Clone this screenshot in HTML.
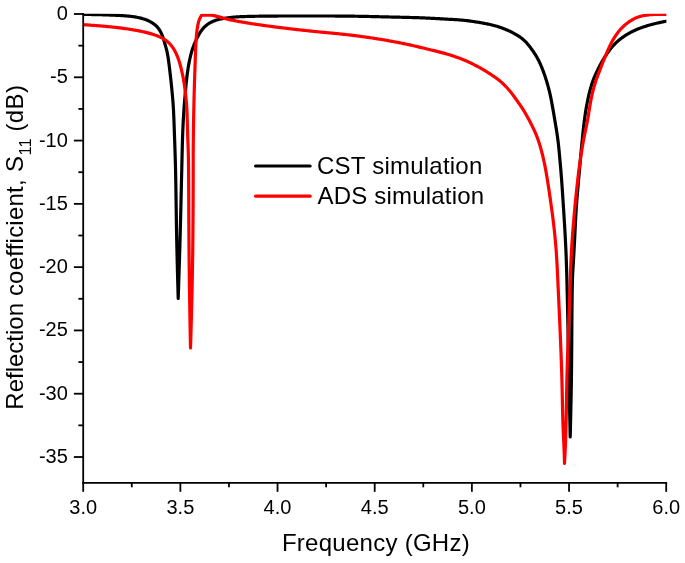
<!DOCTYPE html>
<html><head><meta charset="utf-8"><title>S11</title>
<style>
html,body{margin:0;padding:0;background:#fff;}
svg{display:block;font-family:"Liberation Sans",sans-serif;will-change:transform;transform:translateZ(0);}
</style></head>
<body>
<svg width="685" height="563" viewBox="0 0 685 563">
<rect width="685" height="563" fill="#fff"/>
<clipPath id="pc"><rect x="83.2" y="13.7" width="583.20" height="470"/></clipPath>
<g fill="none" stroke-width="3.2" stroke-linejoin="round" stroke-linecap="round" clip-path="url(#pc)">
<path stroke="#000" d="M83.00 14.40L84.00 14.41L85.00 14.43L86.00 14.44L87.00 14.45L88.00 14.47L89.00 14.48L90.00 14.50L91.00 14.52L92.00 14.53L93.00 14.55L94.00 14.57L95.00 14.59L96.00 14.61L97.00 14.64L98.00 14.66L99.00 14.68L100.00 14.71L101.00 14.73L102.00 14.76L103.00 14.79L104.00 14.82L105.00 14.85L105.99 14.88L106.99 14.92L107.99 14.95L108.99 14.99L109.99 15.03L110.99 15.07L111.99 15.11L112.99 15.15L113.99 15.19L114.99 15.24L115.99 15.28L116.99 15.33L117.99 15.38L118.99 15.43L119.99 15.49L120.99 15.55L121.98 15.61L122.98 15.67L123.98 15.74L124.98 15.81L125.97 15.88L126.97 15.97L127.97 16.05L128.96 16.15L129.95 16.25L130.95 16.37L131.94 16.49L132.93 16.63L133.92 16.77L134.91 16.93L135.89 17.10L136.87 17.28L137.85 17.48L138.83 17.69L139.81 17.91L140.78 18.15L141.74 18.41L142.71 18.68L143.66 18.97L144.61 19.28L145.56 19.60L146.49 19.95L147.42 20.33L148.33 20.72L149.23 21.14L150.12 21.59L150.99 22.07L151.85 22.57L152.69 23.10L153.50 23.66L154.29 24.26L155.06 24.88L155.80 25.54L156.51 26.22L157.19 26.94L157.84 27.68L158.45 28.45L159.03 29.25L159.57 30.07L160.09 30.92L160.57 31.78L161.02 32.67L161.44 33.56L161.84 34.48L162.21 35.40L162.56 36.33L162.90 37.28L163.22 38.22L163.53 39.18L163.83 40.13L164.12 41.09L164.40 42.05L164.68 43.01L164.96 43.97L165.24 44.94L165.51 45.90L165.78 46.86L166.05 47.82L166.30 48.79L166.55 49.75L166.78 50.72L167.01 51.69L167.22 52.67L167.41 53.65L167.59 54.63L167.77 55.61L167.93 56.60L168.09 57.59L168.24 58.58L168.38 59.57L168.52 60.56L168.66 61.55L168.80 62.54L168.93 63.53L169.06 64.52L169.19 65.52L169.31 66.51L169.43 67.50L169.56 68.49L169.68 69.49L169.79 70.48L169.91 71.47L170.03 72.47L170.14 73.46L170.25 74.45L170.37 75.45L170.48 76.44L170.59 77.44L170.70 78.43L170.81 79.42L170.92 80.42L171.02 81.41L171.13 82.41L171.24 83.40L171.34 84.39L171.44 85.39L171.55 86.38L171.65 87.38L171.75 88.37L171.84 89.37L171.94 90.37L172.03 91.36L172.13 92.36L172.22 93.35L172.31 94.35L172.40 95.34L172.49 96.34L172.58 97.34L172.66 98.33L172.75 99.33L172.83 100.33L172.91 101.32L172.98 102.32L173.06 103.32L173.13 104.31L173.20 105.31L173.26 106.31L173.32 107.31L173.38 108.31L173.44 109.30L173.50 110.30L173.55 111.30L173.60 112.30L173.64 113.30L173.69 114.30L173.73 115.30L173.78 116.30L173.82 117.29L173.86 118.29L173.90 119.29L173.94 120.29L173.97 121.29L174.01 122.29L174.05 123.29L174.08 124.29L174.12 125.29L174.15 126.29L174.19 127.29L174.22 128.29L174.26 129.29L174.29 130.29L174.33 131.29L174.36 132.28L174.40 133.28L174.43 134.28L174.47 135.28L174.50 136.28L174.54 137.28L174.58 138.28L174.61 139.28L174.65 140.28L174.68 141.28L174.72 142.28L174.75 143.28L174.79 144.28L174.82 145.28L174.86 146.28L174.89 147.28L174.93 148.27L174.96 149.27L174.99 150.27L175.03 151.27L175.06 152.27L175.09 153.27L175.12 154.27L175.15 155.27L175.18 156.27L175.21 157.27L175.24 158.27L175.27 159.27L175.30 160.27L175.33 161.27L175.36 162.27L175.38 163.27L175.41 164.27L175.44 165.27L175.46 166.27L175.49 167.27L175.51 168.27L175.53 169.27L175.56 170.27L175.58 171.27L175.60 172.27L175.62 173.27L175.64 174.26L175.66 175.26L175.68 176.26L175.70 177.26L175.72 178.26L175.74 179.26L175.76 180.26L175.78 181.26L175.79 182.26L175.81 183.26L175.83 184.26L175.84 185.26L175.86 186.26L175.88 187.26L175.89 188.26L175.91 189.26L175.92 190.26L175.94 191.26L175.95 192.26L175.97 193.26L175.98 194.26L176.00 195.26L176.01 196.26L176.03 197.26L176.04 198.26L176.06 199.26L176.07 200.26L176.09 201.26L176.10 202.26L176.11 203.26L176.13 204.26L176.14 205.26L176.16 206.26L176.17 207.26L176.19 208.26L176.20 209.26L176.21 210.26L176.23 211.26L176.24 212.26L176.26 213.26L176.27 214.26L176.29 215.26L176.30 216.26L176.32 217.26L176.33 218.26L176.35 219.26L176.36 220.26L176.38 221.26L176.39 222.26L176.41 223.26L176.43 224.26L176.44 225.26L176.46 226.26L176.48 227.26L176.50 228.26L176.51 229.26L176.53 230.26L176.55 231.26L176.57 232.26L176.59 233.26L176.61 234.26L176.63 235.26L176.65 236.26L176.67 237.26L176.69 238.26L176.71 239.26L176.73 240.26L176.75 241.26L176.77 242.26L176.79 243.26L176.81 244.25L176.83 245.25L176.85 246.25L176.88 247.25L176.90 248.25L176.92 249.25L176.94 250.25L176.97 251.25L176.99 252.25L177.01 253.25L177.03 254.25L177.06 255.25L177.08 256.25L177.10 257.25L177.13 258.25L177.15 259.25L177.18 260.25L177.20 261.25L177.22 262.25L177.25 263.25L177.27 264.25L177.30 265.25L177.32 266.25L177.35 267.25L177.37 268.25L177.40 269.25L177.42 270.25L177.45 271.25L177.48 272.25L177.50 273.25L177.53 274.25L177.55 275.25L177.58 276.25L177.61 277.25L177.63 278.24L177.66 279.24L177.69 280.24L177.71 281.24L177.74 282.24L177.77 283.24L177.80 284.24L177.82 285.24L177.85 286.24L177.88 287.24L177.91 288.24L177.94 289.24L177.96 290.23L177.99 291.23L178.02 292.21L178.05 293.20L178.08 294.18L178.10 295.15L178.13 296.11L178.16 297.07L178.19 298.02L178.20 298.50L178.23 297.50L178.27 296.50L178.30 295.50L178.34 294.50L178.37 293.50L178.40 292.50L178.44 291.50L178.47 290.50L178.51 289.51L178.54 288.51L178.57 287.51L178.61 286.51L178.64 285.51L178.67 284.51L178.71 283.51L178.74 282.51L178.77 281.51L178.80 280.51L178.84 279.51L178.87 278.51L178.90 277.51L178.93 276.51L178.97 275.51L179.00 274.51L179.03 273.51L179.06 272.51L179.09 271.51L179.12 270.51L179.16 269.52L179.19 268.52L179.22 267.52L179.25 266.52L179.28 265.52L179.31 264.52L179.34 263.52L179.37 262.52L179.40 261.52L179.43 260.52L179.46 259.52L179.50 258.52L179.53 257.52L179.56 256.52L179.59 255.52L179.61 254.52L179.64 253.52L179.67 252.52L179.70 251.52L179.73 250.52L179.76 249.52L179.79 248.53L179.82 247.53L179.85 246.53L179.88 245.53L179.91 244.53L179.93 243.53L179.96 242.53L179.99 241.53L180.02 240.53L180.05 239.53L180.07 238.53L180.10 237.53L180.13 236.53L180.16 235.53L180.18 234.53L180.21 233.53L180.24 232.53L180.26 231.53L180.29 230.53L180.32 229.53L180.34 228.53L180.37 227.53L180.40 226.53L180.42 225.53L180.45 224.53L180.47 223.53L180.50 222.53L180.52 221.54L180.55 220.54L180.57 219.54L180.60 218.54L180.62 217.54L180.65 216.54L180.67 215.54L180.69 214.54L180.72 213.54L180.74 212.54L180.77 211.54L180.79 210.54L180.81 209.54L180.84 208.54L180.86 207.54L180.88 206.54L180.91 205.54L180.93 204.54L180.95 203.54L180.98 202.54L181.00 201.54L181.02 200.54L181.05 199.54L181.07 198.54L181.09 197.54L181.12 196.54L181.14 195.54L181.16 194.54L181.19 193.54L181.21 192.54L181.23 191.54L181.26 190.54L181.28 189.54L181.30 188.54L181.33 187.54L181.35 186.54L181.37 185.55L181.40 184.55L181.42 183.55L181.44 182.55L181.47 181.55L181.49 180.55L181.52 179.55L181.54 178.55L181.56 177.55L181.59 176.55L181.61 175.55L181.64 174.55L181.66 173.55L181.69 172.55L181.71 171.55L181.73 170.55L181.76 169.55L181.78 168.55L181.81 167.55L181.83 166.55L181.85 165.55L181.88 164.55L181.90 163.55L181.92 162.55L181.95 161.55L181.97 160.55L181.99 159.55L182.02 158.55L182.04 157.55L182.06 156.55L182.08 155.55L182.11 154.55L182.13 153.55L182.16 152.55L182.18 151.55L182.20 150.55L182.23 149.55L182.25 148.55L182.28 147.55L182.31 146.55L182.33 145.56L182.36 144.56L182.39 143.56L182.42 142.56L182.44 141.56L182.47 140.56L182.50 139.56L182.54 138.56L182.57 137.56L182.60 136.56L182.63 135.56L182.67 134.56L182.70 133.56L182.74 132.56L182.78 131.56L182.82 130.56L182.86 129.57L182.90 128.57L182.94 127.57L182.99 126.57L183.04 125.57L183.08 124.57L183.13 123.57L183.18 122.57L183.23 121.57L183.29 120.57L183.34 119.58L183.39 118.58L183.45 117.58L183.51 116.58L183.57 115.58L183.62 114.58L183.69 113.59L183.75 112.59L183.81 111.59L183.88 110.59L183.94 109.59L184.01 108.60L184.08 107.60L184.15 106.60L184.23 105.61L184.30 104.61L184.38 103.61L184.46 102.62L184.55 101.62L184.63 100.62L184.71 99.63L184.80 98.63L184.89 97.63L184.98 96.64L185.06 95.64L185.15 94.64L185.24 93.65L185.33 92.65L185.42 91.66L185.51 90.66L185.60 89.66L185.69 88.67L185.79 87.67L185.88 86.68L185.97 85.68L186.07 84.69L186.16 83.69L186.26 82.69L186.36 81.70L186.47 80.71L186.58 79.71L186.69 78.72L186.80 77.72L186.92 76.73L187.04 75.74L187.17 74.75L187.30 73.76L187.44 72.77L187.58 71.78L187.72 70.79L187.87 69.80L188.02 68.81L188.18 67.82L188.34 66.83L188.50 65.85L188.67 64.86L188.85 63.88L189.03 62.89L189.22 61.91L189.42 60.93L189.62 59.95L189.82 58.97L190.04 57.99L190.26 57.02L190.49 56.05L190.73 55.07L190.97 54.11L191.23 53.14L191.50 52.18L191.78 51.22L192.07 50.27L192.38 49.32L192.69 48.37L193.03 47.43L193.37 46.49L193.73 45.56L194.10 44.63L194.48 43.71L194.87 42.78L195.27 41.87L195.68 40.95L196.11 40.04L196.54 39.14L196.98 38.24L197.43 37.34L197.89 36.45L198.36 35.57L198.84 34.69L199.33 33.82L199.84 32.96L200.37 32.11L200.92 31.28L201.49 30.47L202.08 29.67L202.70 28.90L203.35 28.16L204.02 27.43L204.73 26.74L205.46 26.07L206.21 25.43L206.99 24.81L207.79 24.23L208.62 23.67L209.46 23.15L210.32 22.66L211.20 22.19L212.09 21.76L213.00 21.35L213.92 20.98L214.85 20.63L215.79 20.31L216.74 20.01L217.70 19.74L218.67 19.49L219.64 19.26L220.61 19.05L221.59 18.85L222.57 18.67L223.56 18.49L224.55 18.32L225.54 18.17L226.53 18.02L227.52 17.88L228.51 17.74L229.50 17.62L230.49 17.50L231.49 17.39L232.48 17.29L233.48 17.19L234.47 17.11L235.47 17.03L236.47 16.95L237.46 16.89L238.46 16.82L239.46 16.77L240.46 16.71L241.46 16.67L242.46 16.62L243.46 16.58L244.45 16.54L245.45 16.51L246.45 16.48L247.45 16.45L248.45 16.42L249.45 16.39L250.45 16.37L251.45 16.35L252.45 16.33L253.45 16.31L254.45 16.29L255.45 16.27L256.45 16.26L257.45 16.24L258.45 16.23L259.45 16.21L260.45 16.20L261.45 16.18L262.45 16.17L263.45 16.16L264.45 16.15L265.45 16.14L266.45 16.13L267.45 16.11L268.45 16.10L269.45 16.09L270.45 16.08L271.45 16.07L272.45 16.07L273.45 16.06L274.45 16.05L275.45 16.04L276.45 16.03L277.45 16.03L278.45 16.02L279.45 16.02L280.45 16.01L281.45 16.01L282.45 16.01L283.45 16.01L284.45 16.00L285.45 16.00L286.45 16.00L287.45 16.00L288.45 16.00L289.45 16.00L290.45 16.00L291.45 16.00L292.45 16.00L293.45 16.00L294.45 16.00L295.45 16.00L296.45 16.00L297.45 16.00L298.45 16.00L299.45 16.00L300.45 16.00L301.45 16.00L302.45 16.00L303.45 16.00L304.45 16.00L305.45 16.00L306.45 16.00L307.45 16.00L308.45 16.00L309.45 16.00L310.45 16.00L311.45 16.00L312.45 16.00L313.45 16.00L314.45 16.00L315.45 16.00L316.45 16.00L317.45 16.00L318.45 16.00L319.45 16.00L320.45 16.00L321.45 16.00L322.45 16.00L323.45 16.00L324.45 16.00L325.45 16.00L326.45 16.00L327.45 16.00L328.45 16.00L329.45 16.00L330.45 16.01L331.45 16.01L332.45 16.01L333.45 16.02L334.45 16.02L335.45 16.03L336.45 16.03L337.45 16.04L338.45 16.04L339.45 16.05L340.45 16.06L341.45 16.07L342.45 16.08L343.45 16.09L344.45 16.10L345.45 16.11L346.45 16.12L347.45 16.13L348.45 16.15L349.45 16.16L350.45 16.17L351.45 16.18L352.45 16.20L353.45 16.21L354.45 16.22L355.45 16.24L356.45 16.25L357.45 16.27L358.45 16.28L359.45 16.30L360.45 16.31L361.45 16.33L362.45 16.35L363.45 16.36L364.45 16.38L365.45 16.40L366.45 16.42L367.45 16.44L368.45 16.47L369.45 16.49L370.45 16.51L371.45 16.54L372.45 16.56L373.45 16.59L374.45 16.61L375.45 16.64L376.44 16.66L377.44 16.69L378.44 16.72L379.44 16.74L380.44 16.77L381.44 16.79L382.44 16.82L383.44 16.85L384.44 16.87L385.44 16.90L386.44 16.92L387.44 16.94L388.44 16.97L389.44 16.99L390.44 17.01L391.44 17.04L392.44 17.06L393.44 17.08L394.44 17.11L395.44 17.13L396.44 17.15L397.44 17.17L398.44 17.20L399.44 17.22L400.44 17.24L401.44 17.26L402.44 17.29L403.44 17.31L404.44 17.33L405.44 17.36L406.44 17.38L407.44 17.41L408.44 17.43L409.44 17.46L410.44 17.49L411.44 17.51L412.44 17.54L413.44 17.57L414.43 17.60L415.43 17.63L416.43 17.66L417.43 17.69L418.43 17.72L419.43 17.76L420.43 17.79L421.43 17.83L422.43 17.87L423.43 17.91L424.43 17.95L425.43 17.99L426.42 18.04L427.42 18.08L428.42 18.13L429.42 18.18L430.42 18.23L431.42 18.28L432.42 18.33L433.42 18.39L434.41 18.44L435.41 18.50L436.41 18.55L437.41 18.61L438.41 18.67L439.41 18.72L440.41 18.78L441.40 18.84L442.40 18.90L443.40 18.95L444.40 19.01L445.40 19.07L446.40 19.12L447.40 19.18L448.39 19.23L449.39 19.28L450.39 19.34L451.39 19.39L452.39 19.45L453.39 19.50L454.39 19.56L455.38 19.62L456.38 19.69L457.38 19.75L458.38 19.82L459.37 19.90L460.37 19.98L461.36 20.07L462.36 20.16L463.35 20.26L464.35 20.36L465.34 20.47L466.34 20.58L467.33 20.70L468.32 20.83L469.31 20.96L470.31 21.09L471.30 21.23L472.29 21.38L473.28 21.52L474.27 21.67L475.26 21.82L476.24 21.97L477.23 22.13L478.22 22.29L479.21 22.45L480.20 22.62L481.18 22.79L482.17 22.96L483.16 23.14L484.14 23.32L485.13 23.50L486.11 23.70L487.10 23.89L488.08 24.10L489.05 24.31L490.03 24.52L491.00 24.74L491.97 24.97L492.94 25.21L493.91 25.46L494.87 25.72L495.83 25.99L496.79 26.26L497.74 26.55L498.69 26.85L499.64 27.16L500.59 27.49L501.53 27.82L502.48 28.17L503.41 28.53L504.35 28.89L505.28 29.27L506.21 29.66L507.13 30.05L508.05 30.46L508.96 30.87L509.87 31.30L510.77 31.73L511.67 32.17L512.56 32.62L513.44 33.08L514.33 33.55L515.20 34.04L516.07 34.54L516.94 35.05L517.79 35.57L518.63 36.11L519.47 36.67L520.29 37.24L521.09 37.83L521.88 38.43L522.65 39.05L523.40 39.70L524.14 40.36L524.86 41.04L525.56 41.74L526.24 42.46L526.91 43.19L527.56 43.94L528.20 44.71L528.83 45.49L529.45 46.28L530.06 47.08L530.67 47.88L531.26 48.69L531.85 49.50L532.43 50.32L533.01 51.14L533.57 51.97L534.13 52.80L534.68 53.64L535.22 54.48L535.75 55.33L536.27 56.18L536.77 57.05L537.27 57.91L537.75 58.79L538.21 59.67L538.67 60.55L539.11 61.45L539.54 62.35L539.97 63.25L540.38 64.16L540.78 65.08L541.17 66.00L541.56 66.92L541.94 67.85L542.31 68.78L542.67 69.71L543.02 70.65L543.37 71.59L543.72 72.52L544.06 73.47L544.39 74.41L544.71 75.36L545.03 76.30L545.35 77.25L545.66 78.20L545.96 79.16L546.26 80.11L546.55 81.07L546.84 82.03L547.12 82.99L547.40 83.95L547.68 84.91L547.95 85.87L548.21 86.83L548.47 87.80L548.73 88.77L548.98 89.74L549.22 90.70L549.46 91.68L549.70 92.65L549.92 93.62L550.15 94.60L550.36 95.57L550.57 96.55L550.78 97.53L550.98 98.51L551.17 99.49L551.36 100.47L551.55 101.45L551.73 102.43L551.91 103.42L552.09 104.40L552.27 105.39L552.45 106.37L552.62 107.36L552.80 108.34L552.97 109.33L553.15 110.31L553.32 111.30L553.49 112.28L553.66 113.27L553.83 114.25L554.00 115.24L554.16 116.22L554.33 117.21L554.50 118.20L554.66 119.18L554.83 120.17L554.99 121.16L555.15 122.14L555.32 123.13L555.48 124.12L555.64 125.10L555.81 126.09L555.97 127.08L556.13 128.06L556.29 129.05L556.45 130.04L556.61 131.03L556.76 132.02L556.91 133.00L557.06 133.99L557.21 134.98L557.36 135.97L557.50 136.96L557.63 137.95L557.77 138.94L557.90 139.93L558.02 140.92L558.14 141.92L558.26 142.91L558.38 143.90L558.49 144.89L558.60 145.89L558.70 146.88L558.80 147.88L558.90 148.87L559.00 149.87L559.10 150.86L559.19 151.86L559.29 152.85L559.38 153.85L559.47 154.85L559.56 155.84L559.65 156.84L559.74 157.83L559.83 158.83L559.92 159.83L560.01 160.82L560.10 161.82L560.19 162.81L560.28 163.81L560.37 164.81L560.46 165.80L560.54 166.80L560.63 167.80L560.72 168.79L560.80 169.79L560.89 170.78L560.97 171.78L561.05 172.78L561.13 173.77L561.22 174.77L561.29 175.77L561.37 176.76L561.45 177.76L561.52 178.76L561.60 179.76L561.67 180.75L561.75 181.75L561.82 182.75L561.89 183.75L561.96 184.74L562.03 185.74L562.10 186.74L562.16 187.74L562.23 188.73L562.30 189.73L562.37 190.73L562.43 191.73L562.50 192.72L562.56 193.72L562.63 194.72L562.70 195.72L562.76 196.72L562.83 197.71L562.89 198.71L562.96 199.71L563.02 200.71L563.09 201.71L563.15 202.70L563.22 203.70L563.28 204.70L563.35 205.70L563.42 206.69L563.48 207.69L563.55 208.69L563.61 209.69L563.68 210.69L563.74 211.68L563.81 212.68L563.87 213.68L563.93 214.68L564.00 215.68L564.06 216.67L564.12 217.67L564.18 218.67L564.25 219.67L564.31 220.67L564.37 221.66L564.43 222.66L564.49 223.66L564.55 224.66L564.61 225.66L564.67 226.66L564.72 227.65L564.78 228.65L564.84 229.65L564.90 230.65L564.95 231.65L565.01 232.65L565.07 233.64L565.12 234.64L565.18 235.64L565.23 236.64L565.29 237.64L565.34 238.64L565.39 239.64L565.44 240.63L565.49 241.63L565.54 242.63L565.59 243.63L565.64 244.63L565.69 245.63L565.74 246.63L565.78 247.63L565.83 248.62L565.87 249.62L565.92 250.62L565.96 251.62L566.00 252.62L566.05 253.62L566.09 254.62L566.13 255.62L566.17 256.62L566.21 257.62L566.24 258.62L566.28 259.62L566.32 260.61L566.35 261.61L566.38 262.61L566.42 263.61L566.45 264.61L566.48 265.61L566.52 266.61L566.55 267.61L566.58 268.61L566.61 269.61L566.64 270.61L566.67 271.61L566.70 272.61L566.72 273.61L566.75 274.61L566.78 275.61L566.81 276.61L566.83 277.61L566.86 278.61L566.89 279.61L566.91 280.61L566.94 281.61L566.96 282.61L566.99 283.60L567.02 284.60L567.04 285.60L567.06 286.60L567.09 287.60L567.11 288.60L567.14 289.60L567.16 290.60L567.19 291.60L567.21 292.60L567.23 293.60L567.26 294.60L567.28 295.60L567.30 296.60L567.33 297.60L567.35 298.60L567.37 299.60L567.39 300.60L567.42 301.60L567.44 302.60L567.46 303.60L567.48 304.60L567.51 305.60L567.53 306.60L567.55 307.60L567.57 308.60L567.59 309.60L567.61 310.60L567.64 311.60L567.66 312.60L567.68 313.60L567.70 314.60L567.72 315.60L567.74 316.60L567.76 317.60L567.78 318.60L567.80 319.60L567.82 320.60L567.84 321.59L567.86 322.59L567.89 323.59L567.91 324.59L567.93 325.59L567.95 326.59L567.97 327.59L567.99 328.59L568.01 329.59L568.03 330.59L568.05 331.59L568.07 332.59L568.09 333.59L568.11 334.59L568.13 335.59L568.15 336.59L568.16 337.59L568.18 338.59L568.20 339.59L568.22 340.59L568.24 341.59L568.26 342.59L568.28 343.59L568.30 344.59L568.32 345.59L568.34 346.59L568.36 347.59L568.38 348.59L568.40 349.59L568.42 350.59L568.44 351.59L568.46 352.59L568.48 353.59L568.50 354.59L568.52 355.59L568.54 356.59L568.56 357.59L568.58 358.59L568.60 359.59L568.62 360.59L568.64 361.59L568.66 362.59L568.68 363.59L568.70 364.59L568.72 365.59L568.74 366.59L568.76 367.59L568.78 368.59L568.80 369.59L568.82 370.59L568.84 371.59L568.86 372.59L568.88 373.59L568.90 374.58L568.92 375.58L568.94 376.58L568.96 377.58L568.98 378.58L569.00 379.58L569.02 380.58L569.04 381.58L569.06 382.58L569.09 383.58L569.11 384.58L569.13 385.58L569.15 386.58L569.17 387.58L569.19 388.58L569.21 389.58L569.23 390.58L569.25 391.58L569.27 392.58L569.29 393.58L569.32 394.58L569.34 395.58L569.36 396.58L569.38 397.58L569.40 398.58L569.42 399.58L569.44 400.58L569.46 401.58L569.48 402.58L569.50 403.58L569.52 404.58L569.55 405.58L569.57 406.58L569.59 407.58L569.61 408.58L569.63 409.58L569.65 410.58L569.67 411.58L569.69 412.58L569.71 413.58L569.73 414.58L569.75 415.58L569.77 416.58L569.80 417.58L569.82 418.58L569.84 419.58L569.86 420.58L569.88 421.57L569.90 422.57L569.92 423.57L569.94 424.57L569.96 425.57L569.98 426.57L570.00 427.57L570.02 428.57L570.05 429.57L570.07 430.57L570.09 431.56L570.11 432.55L570.13 433.54L570.15 434.53L570.17 435.52L570.19 436.51L570.20 437.00L570.22 436.00L570.25 435.00L570.27 434.00L570.30 433.00L570.32 432.00L570.35 431.00L570.37 430.00L570.40 429.00L570.42 428.00L570.44 427.00L570.47 426.00L570.49 425.00L570.52 424.00L570.54 423.00L570.56 422.00L570.59 421.00L570.61 420.00L570.63 419.00L570.66 418.00L570.68 417.01L570.70 416.01L570.73 415.01L570.75 414.01L570.77 413.01L570.79 412.01L570.82 411.01L570.84 410.01L570.86 409.01L570.88 408.01L570.90 407.01L570.92 406.01L570.95 405.01L570.97 404.01L570.99 403.01L571.01 402.01L571.03 401.01L571.05 400.01L571.07 399.01L571.09 398.01L571.11 397.01L571.12 396.01L571.14 395.01L571.16 394.01L571.18 393.01L571.20 392.01L571.22 391.01L571.23 390.01L571.25 389.01L571.27 388.01L571.28 387.01L571.30 386.01L571.32 385.01L571.33 384.01L571.35 383.01L571.36 382.01L571.38 381.01L571.39 380.01L571.40 379.01L571.42 378.01L571.43 377.01L571.44 376.01L571.46 375.01L571.47 374.01L571.48 373.01L571.49 372.01L571.50 371.01L571.52 370.01L571.53 369.01L571.54 368.01L571.55 367.01L571.56 366.01L571.57 365.01L571.58 364.01L571.59 363.01L571.60 362.01L571.60 361.01L571.61 360.01L571.62 359.01L571.63 358.01L571.64 357.01L571.65 356.01L571.65 355.01L571.66 354.01L571.67 353.01L571.68 352.01L571.68 351.01L571.69 350.01L571.70 349.01L571.71 348.01L571.71 347.01L571.72 346.01L571.73 345.01L571.73 344.01L571.74 343.01L571.75 342.01L571.75 341.01L571.76 340.01L571.77 339.01L571.77 338.01L571.78 337.01L571.78 336.01L571.79 335.01L571.80 334.01L571.80 333.01L571.81 332.01L571.82 331.01L571.82 330.01L571.83 329.01L571.84 328.00L571.84 327.00L571.85 326.00L571.86 325.00L571.86 324.00L571.87 323.00L571.88 322.00L571.89 321.00L571.89 320.00L571.90 319.00L571.91 318.00L571.92 317.00L571.93 316.00L571.93 315.00L571.94 314.00L571.95 313.00L571.96 312.00L571.97 311.00L571.98 310.00L571.99 309.00L572.00 308.00L572.01 307.00L572.02 306.00L572.03 305.00L572.04 304.00L572.05 303.00L572.06 302.01L572.07 301.01L572.09 300.01L572.10 299.01L572.11 298.01L572.12 297.01L572.14 296.01L572.15 295.01L572.17 294.01L572.18 293.01L572.19 292.01L572.21 291.01L572.23 290.01L572.24 289.01L572.26 288.01L572.27 287.01L572.29 286.01L572.31 285.01L572.33 284.01L572.35 283.02L572.37 282.02L572.40 281.02L572.42 280.02L572.45 279.02L572.49 278.02L572.52 277.02L572.56 276.02L572.61 275.02L572.65 274.03L572.71 273.03L572.76 272.03L572.82 271.03L572.87 270.03L572.93 269.03L573.00 268.03L573.06 267.04L573.12 266.04L573.18 265.04L573.25 264.04L573.31 263.04L573.37 262.04L573.43 261.05L573.49 260.05L573.55 259.05L573.61 258.05L573.66 257.05L573.72 256.05L573.78 255.06L573.83 254.06L573.89 253.06L573.95 252.06L574.00 251.06L574.06 250.06L574.11 249.06L574.17 248.07L574.22 247.07L574.28 246.07L574.33 245.07L574.38 244.07L574.43 243.07L574.49 242.07L574.54 241.08L574.59 240.08L574.64 239.08L574.69 238.08L574.74 237.08L574.79 236.08L574.84 235.08L574.88 234.08L574.93 233.08L574.98 232.09L575.03 231.09L575.08 230.09L575.13 229.09L575.18 228.09L575.22 227.09L575.27 226.09L575.32 225.09L575.37 224.09L575.42 223.10L575.47 222.10L575.53 221.10L575.58 220.10L575.63 219.10L575.68 218.10L575.74 217.10L575.80 216.11L575.85 215.11L575.91 214.11L575.97 213.11L576.03 212.11L576.09 211.12L576.15 210.12L576.22 209.12L576.28 208.12L576.35 207.13L576.42 206.13L576.49 205.13L576.56 204.13L576.64 203.14L576.71 202.14L576.79 201.14L576.87 200.15L576.95 199.15L577.03 198.15L577.11 197.16L577.20 196.16L577.28 195.16L577.36 194.17L577.45 193.17L577.53 192.17L577.62 191.18L577.71 190.18L577.79 189.18L577.88 188.19L577.97 187.19L578.06 186.19L578.14 185.20L578.23 184.20L578.32 183.21L578.41 182.21L578.49 181.21L578.58 180.22L578.67 179.22L578.75 178.22L578.84 177.23L578.92 176.23L579.01 175.24L579.10 174.24L579.18 173.24L579.27 172.25L579.36 171.25L579.44 170.25L579.53 169.26L579.62 168.26L579.70 167.27L579.79 166.27L579.88 165.27L579.96 164.28L580.05 163.28L580.14 162.28L580.23 161.29L580.32 160.29L580.41 159.30L580.50 158.30L580.59 157.30L580.68 156.31L580.77 155.31L580.86 154.32L580.95 153.32L581.04 152.32L581.13 151.33L581.23 150.33L581.32 149.34L581.42 148.34L581.51 147.35L581.60 146.35L581.70 145.36L581.80 144.36L581.89 143.37L581.99 142.37L582.09 141.37L582.19 140.38L582.28 139.38L582.38 138.39L582.48 137.39L582.58 136.40L582.68 135.40L582.79 134.41L582.89 133.41L582.99 132.42L583.09 131.42L583.20 130.43L583.31 129.43L583.41 128.44L583.52 127.45L583.64 126.45L583.75 125.46L583.87 124.47L583.99 123.47L584.11 122.48L584.23 121.49L584.36 120.50L584.49 119.51L584.62 118.52L584.76 117.52L584.90 116.53L585.04 115.54L585.18 114.55L585.33 113.56L585.48 112.57L585.64 111.58L585.80 110.60L585.96 109.61L586.12 108.62L586.29 107.64L586.47 106.65L586.64 105.67L586.82 104.68L587.01 103.70L587.19 102.72L587.39 101.74L587.58 100.76L587.78 99.78L587.99 98.80L588.20 97.82L588.42 96.85L588.64 95.87L588.87 94.89L589.10 93.92L589.34 92.95L589.58 91.97L589.83 91.00L590.09 90.03L590.35 89.06L590.62 88.10L590.89 87.14L591.17 86.18L591.46 85.22L591.76 84.27L592.07 83.32L592.38 82.37L592.71 81.43L593.04 80.49L593.39 79.56L593.75 78.63L594.12 77.71L594.51 76.79L594.90 75.87L595.31 74.96L595.73 74.05L596.15 73.14L596.58 72.24L597.01 71.33L597.45 70.43L597.89 69.53L598.33 68.63L598.77 67.74L599.22 66.84L599.67 65.95L600.13 65.06L600.59 64.17L601.06 63.29L601.54 62.41L602.03 61.54L602.53 60.68L603.03 59.82L603.55 58.96L604.08 58.11L604.61 57.27L605.16 56.43L605.71 55.60L606.27 54.77L606.84 53.94L607.41 53.12L607.99 52.30L608.57 51.49L609.16 50.69L609.76 49.89L610.37 49.09L610.99 48.31L611.62 47.54L612.26 46.77L612.92 46.02L613.58 45.28L614.26 44.55L614.96 43.83L615.66 43.12L616.38 42.43L617.11 41.75L617.86 41.09L618.61 40.44L619.38 39.80L620.16 39.18L620.95 38.57L621.75 37.97L622.56 37.39L623.38 36.82L624.21 36.26L625.05 35.71L625.89 35.17L626.74 34.65L627.60 34.13L628.46 33.63L629.33 33.14L630.21 32.66L631.09 32.19L631.98 31.73L632.87 31.28L633.77 30.85L634.68 30.43L635.59 30.02L636.50 29.62L637.42 29.23L638.35 28.85L639.28 28.48L640.21 28.12L641.15 27.77L642.09 27.43L643.03 27.10L643.98 26.77L644.93 26.46L645.88 26.15L646.83 25.86L647.79 25.57L648.75 25.28L649.71 25.01L650.67 24.74L651.64 24.48L652.60 24.22L653.57 23.97L654.54 23.73L655.51 23.49L656.48 23.26L657.45 23.04L658.42 22.82L659.39 22.61L660.35 22.40L661.31 22.20L662.25 22.01L663.19 21.82L664.12 21.64L665.03 21.46L665.95 21.29L666.40 21.20"/>
<path stroke="#f00" d="M83.30 24.70L84.30 24.76L85.30 24.83L86.29 24.89L87.29 24.96L88.29 25.02L89.29 25.09L90.29 25.16L91.28 25.23L92.28 25.30L93.28 25.37L94.28 25.45L95.27 25.52L96.27 25.60L97.27 25.68L98.26 25.76L99.26 25.84L100.26 25.92L101.25 26.01L102.25 26.09L103.25 26.18L104.24 26.26L105.24 26.35L106.23 26.44L107.23 26.54L108.23 26.63L109.22 26.73L110.22 26.82L111.21 26.92L112.21 27.02L113.20 27.13L114.20 27.23L115.19 27.34L116.19 27.45L117.18 27.56L118.17 27.68L119.16 27.80L120.16 27.92L121.15 28.04L122.14 28.17L123.13 28.30L124.12 28.44L125.11 28.58L126.10 28.72L127.09 28.86L128.08 29.01L129.07 29.16L130.06 29.32L131.05 29.48L132.04 29.64L133.02 29.81L134.01 29.98L134.99 30.15L135.98 30.33L136.96 30.51L137.94 30.69L138.92 30.88L139.91 31.08L140.89 31.28L141.87 31.48L142.84 31.69L143.82 31.91L144.80 32.13L145.77 32.36L146.75 32.60L147.72 32.84L148.68 33.09L149.65 33.35L150.61 33.63L151.57 33.91L152.53 34.20L153.48 34.50L154.43 34.82L155.37 35.15L156.31 35.49L157.24 35.85L158.17 36.22L159.10 36.61L160.01 37.02L160.92 37.44L161.81 37.89L162.69 38.35L163.55 38.84L164.40 39.35L165.23 39.89L166.04 40.46L166.83 41.05L167.60 41.68L168.34 42.33L169.05 43.01L169.74 43.72L170.40 44.46L171.04 45.22L171.66 46.00L172.25 46.80L172.82 47.62L173.36 48.46L173.89 49.30L174.39 50.16L174.87 51.04L175.34 51.92L175.79 52.81L176.22 53.71L176.63 54.62L177.03 55.54L177.41 56.46L177.78 57.39L178.13 58.33L178.46 59.27L178.79 60.22L179.10 61.17L179.39 62.12L179.68 63.08L179.96 64.04L180.22 65.00L180.48 65.97L180.74 66.94L180.98 67.91L181.22 68.88L181.46 69.85L181.69 70.83L181.91 71.80L182.13 72.78L182.35 73.75L182.56 74.73L182.76 75.71L182.96 76.69L183.15 77.67L183.34 78.65L183.52 79.64L183.69 80.62L183.86 81.61L184.02 82.59L184.18 83.58L184.33 84.57L184.47 85.56L184.61 86.55L184.75 87.54L184.88 88.53L185.00 89.52L185.13 90.51L185.25 91.51L185.37 92.50L185.48 93.49L185.59 94.49L185.70 95.48L185.81 96.48L185.91 97.47L186.01 98.47L186.11 99.46L186.20 100.46L186.29 101.45L186.37 102.45L186.45 103.45L186.53 104.44L186.60 105.44L186.67 106.44L186.73 107.44L186.79 108.43L186.85 109.43L186.90 110.43L186.95 111.43L186.99 112.43L187.03 113.43L187.07 114.43L187.11 115.43L187.14 116.43L187.17 117.42L187.20 118.42L187.23 119.42L187.26 120.42L187.29 121.42L187.31 122.42L187.34 123.42L187.36 124.42L187.39 125.42L187.42 126.42L187.44 127.42L187.47 128.42L187.49 129.42L187.52 130.42L187.55 131.42L187.58 132.42L187.61 133.42L187.64 134.42L187.68 135.42L187.71 136.42L187.75 137.42L187.78 138.42L187.82 139.42L187.86 140.42L187.89 141.42L187.93 142.41L187.97 143.41L188.01 144.41L188.05 145.41L188.08 146.41L188.12 147.41L188.15 148.41L188.19 149.41L188.22 150.41L188.25 151.41L188.28 152.41L188.31 153.41L188.33 154.41L188.36 155.41L188.38 156.41L188.40 157.41L188.42 158.41L188.44 159.41L188.46 160.41L188.47 161.41L188.49 162.41L188.50 163.41L188.52 164.41L188.53 165.41L188.54 166.41L188.55 167.41L188.56 168.41L188.57 169.41L188.58 170.41L188.59 171.41L188.60 172.40L188.61 173.40L188.62 174.40L188.62 175.40L188.63 176.40L188.64 177.40L188.64 178.40L188.65 179.40L188.66 180.40L188.66 181.40L188.67 182.40L188.67 183.40L188.68 184.40L188.68 185.40L188.69 186.40L188.69 187.40L188.70 188.40L188.70 189.40L188.71 190.40L188.71 191.40L188.72 192.40L188.72 193.40L188.72 194.40L188.73 195.40L188.73 196.40L188.74 197.40L188.74 198.40L188.74 199.40L188.75 200.40L188.75 201.40L188.75 202.40L188.76 203.40L188.76 204.40L188.77 205.40L188.77 206.40L188.77 207.40L188.78 208.40L188.78 209.40L188.78 210.40L188.79 211.40L188.79 212.40L188.80 213.40L188.80 214.40L188.80 215.40L188.81 216.40L188.81 217.40L188.82 218.40L188.82 219.40L188.83 220.40L188.83 221.40L188.83 222.40L188.84 223.40L188.84 224.40L188.85 225.40L188.86 226.40L188.86 227.40L188.87 228.40L188.87 229.40L188.88 230.40L188.88 231.40L188.89 232.40L188.90 233.40L188.90 234.40L188.91 235.40L188.92 236.40L188.93 237.40L188.93 238.40L188.94 239.40L188.95 240.40L188.96 241.40L188.96 242.40L188.97 243.40L188.98 244.40L188.99 245.40L189.00 246.40L189.01 247.40L189.01 248.40L189.02 249.40L189.03 250.40L189.04 251.40L189.05 252.40L189.06 253.40L189.07 254.40L189.08 255.40L189.09 256.40L189.10 257.40L189.11 258.40L189.12 259.40L189.13 260.40L189.14 261.40L189.15 262.40L189.16 263.40L189.18 264.40L189.19 265.40L189.20 266.40L189.21 267.40L189.22 268.40L189.23 269.40L189.24 270.40L189.26 271.40L189.27 272.40L189.28 273.40L189.29 274.40L189.30 275.40L189.32 276.40L189.33 277.40L189.34 278.40L189.36 279.40L189.37 280.40L189.38 281.40L189.39 282.40L189.41 283.40L189.42 284.40L189.44 285.40L189.45 286.40L189.46 287.40L189.48 288.40L189.49 289.40L189.51 290.40L189.52 291.40L189.53 292.40L189.55 293.40L189.56 294.40L189.58 295.40L189.59 296.40L189.61 297.40L189.62 298.40L189.64 299.40L189.65 300.40L189.67 301.40L189.68 302.40L189.70 303.40L189.72 304.40L189.73 305.40L189.75 306.40L189.76 307.40L189.78 308.40L189.80 309.40L189.81 310.40L189.83 311.40L189.85 312.40L189.86 313.40L189.88 314.40L189.90 315.40L189.91 316.40L189.93 317.40L189.95 318.40L189.97 319.40L189.98 320.40L190.00 321.40L190.02 322.40L190.04 323.40L190.05 324.40L190.07 325.40L190.09 326.40L190.11 327.40L190.13 328.40L190.14 329.40L190.16 330.40L190.18 331.40L190.20 332.40L190.22 333.40L190.24 334.39L190.26 335.39L190.27 336.39L190.29 337.39L190.31 338.39L190.33 339.38L190.35 340.38L190.37 341.36L190.39 342.34L190.41 343.31L190.43 344.27L190.45 345.22L190.46 346.15L190.48 347.08L190.50 348.00L190.53 347.00L190.56 346.00L190.59 345.00L190.62 344.00L190.66 343.00L190.69 342.00L190.72 341.00L190.75 340.00L190.78 339.00L190.81 338.00L190.84 337.00L190.87 336.00L190.90 335.00L190.93 334.00L190.96 333.01L190.99 332.01L191.02 331.01L191.04 330.01L191.07 329.01L191.10 328.01L191.13 327.01L191.16 326.01L191.19 325.01L191.22 324.01L191.24 323.01L191.27 322.01L191.30 321.01L191.33 320.01L191.35 319.01L191.38 318.01L191.41 317.01L191.43 316.01L191.46 315.01L191.49 314.01L191.51 313.01L191.54 312.01L191.57 311.01L191.59 310.01L191.62 309.01L191.64 308.01L191.67 307.01L191.69 306.01L191.72 305.01L191.74 304.01L191.77 303.01L191.79 302.01L191.81 301.01L191.84 300.01L191.86 299.01L191.88 298.01L191.91 297.01L191.93 296.02L191.95 295.02L191.98 294.02L192.00 293.02L192.02 292.02L192.04 291.02L192.06 290.02L192.09 289.02L192.11 288.02L192.13 287.02L192.15 286.02L192.17 285.02L192.19 284.02L192.21 283.02L192.23 282.02L192.25 281.02L192.27 280.02L192.29 279.02L192.31 278.02L192.33 277.02L192.34 276.02L192.36 275.02L192.38 274.02L192.40 273.02L192.42 272.02L192.43 271.02L192.45 270.02L192.47 269.02L192.49 268.02L192.50 267.02L192.52 266.02L192.53 265.02L192.55 264.02L192.56 263.02L192.58 262.02L192.59 261.02L192.61 260.02L192.62 259.02L192.64 258.02L192.65 257.02L192.67 256.02L192.68 255.02L192.69 254.02L192.71 253.02L192.72 252.02L192.73 251.02L192.74 250.02L192.75 249.02L192.77 248.02L192.78 247.02L192.79 246.02L192.80 245.02L192.81 244.02L192.82 243.02L192.83 242.02L192.84 241.02L192.85 240.02L192.86 239.02L192.87 238.02L192.87 237.02L192.88 236.03L192.89 235.03L192.90 234.03L192.91 233.03L192.91 232.03L192.92 231.03L192.93 230.03L192.94 229.03L192.94 228.03L192.95 227.03L192.96 226.03L192.97 225.03L192.97 224.03L192.98 223.03L192.99 222.03L192.99 221.03L193.00 220.03L193.01 219.03L193.01 218.03L193.02 217.03L193.03 216.03L193.03 215.03L193.04 214.03L193.05 213.03L193.05 212.03L193.06 211.03L193.07 210.03L193.07 209.03L193.08 208.03L193.08 207.03L193.09 206.03L193.10 205.03L193.10 204.03L193.11 203.03L193.11 202.03L193.12 201.03L193.12 200.03L193.13 199.03L193.13 198.03L193.14 197.03L193.14 196.03L193.15 195.03L193.15 194.03L193.15 193.03L193.16 192.03L193.16 191.03L193.16 190.03L193.17 189.03L193.17 188.03L193.17 187.03L193.18 186.03L193.18 185.03L193.18 184.03L193.19 183.03L193.19 182.03L193.19 181.03L193.19 180.03L193.19 179.03L193.19 178.03L193.20 177.03L193.20 176.03L193.20 175.03L193.20 174.03L193.20 173.03L193.20 172.03L193.20 171.03L193.20 170.03L193.20 169.03L193.20 168.03L193.20 167.03L193.20 166.03L193.20 165.03L193.20 164.03L193.20 163.03L193.20 162.03L193.20 161.03L193.20 160.03L193.20 159.03L193.20 158.03L193.20 157.03L193.21 156.03L193.21 155.03L193.21 154.03L193.21 153.03L193.22 152.03L193.22 151.03L193.23 150.03L193.24 149.03L193.24 148.03L193.25 147.03L193.26 146.03L193.27 145.03L193.28 144.03L193.29 143.03L193.30 142.03L193.31 141.03L193.32 140.03L193.33 139.03L193.35 138.03L193.36 137.03L193.37 136.03L193.38 135.03L193.39 134.03L193.41 133.03L193.42 132.03L193.43 131.03L193.45 130.03L193.46 129.03L193.48 128.03L193.49 127.03L193.51 126.03L193.52 125.03L193.54 124.03L193.56 123.03L193.57 122.03L193.59 121.03L193.61 120.03L193.63 119.03L193.64 118.03L193.66 117.03L193.68 116.03L193.70 115.03L193.72 114.03L193.74 113.03L193.76 112.03L193.78 111.03L193.80 110.03L193.82 109.03L193.84 108.03L193.86 107.03L193.88 106.03L193.91 105.03L193.93 104.03L193.95 103.03L193.97 102.03L193.99 101.03L194.02 100.03L194.04 99.03L194.06 98.03L194.09 97.03L194.11 96.03L194.14 95.03L194.16 94.03L194.19 93.03L194.21 92.03L194.24 91.04L194.26 90.04L194.29 89.04L194.32 88.04L194.35 87.04L194.38 86.04L194.40 85.04L194.43 84.04L194.47 83.04L194.50 82.04L194.53 81.04L194.56 80.04L194.59 79.04L194.63 78.04L194.66 77.04L194.70 76.04L194.73 75.04L194.77 74.04L194.80 73.04L194.84 72.04L194.87 71.05L194.91 70.05L194.94 69.05L194.98 68.05L195.01 67.05L195.04 66.05L195.08 65.05L195.11 64.05L195.14 63.05L195.18 62.05L195.21 61.05L195.24 60.05L195.28 59.05L195.31 58.05L195.34 57.05L195.38 56.05L195.41 55.05L195.45 54.05L195.49 53.06L195.53 52.06L195.57 51.06L195.61 50.06L195.65 49.06L195.69 48.06L195.74 47.06L195.78 46.06L195.83 45.06L195.88 44.06L195.94 43.06L195.99 42.06L196.05 41.07L196.11 40.07L196.18 39.07L196.25 38.07L196.32 37.08L196.40 36.08L196.49 35.08L196.59 34.09L196.69 33.09L196.80 32.10L196.91 31.10L197.04 30.11L197.18 29.12L197.32 28.12L197.48 27.14L197.65 26.15L197.83 25.17L198.03 24.19L198.25 23.22L198.49 22.25L198.76 21.30L199.07 20.37L199.41 19.46L199.78 18.57L200.20 17.70L200.65 16.86L201.12 16.02L201.60 15.20L212.10 15.10L213.07 15.35L214.04 15.61L215.00 15.86L215.97 16.11L216.94 16.37L217.90 16.63L218.87 16.88L219.84 17.14L220.80 17.40L221.77 17.66L222.73 17.92L223.70 18.18L224.67 18.44L225.63 18.69L226.60 18.94L227.57 19.18L228.54 19.41L229.51 19.64L230.49 19.86L231.47 20.07L232.44 20.28L233.42 20.47L234.40 20.67L235.39 20.86L236.37 21.04L237.35 21.22L238.34 21.40L239.32 21.57L240.31 21.75L241.29 21.92L242.28 22.09L243.26 22.27L244.25 22.43L245.23 22.60L246.22 22.77L247.21 22.93L248.19 23.09L249.18 23.25L250.17 23.41L251.16 23.57L252.14 23.72L253.13 23.87L254.12 24.02L255.11 24.17L256.10 24.32L257.09 24.47L258.08 24.61L259.07 24.76L260.06 24.90L261.05 25.04L262.04 25.18L263.03 25.32L264.02 25.46L265.01 25.60L266.00 25.73L266.99 25.87L267.98 26.00L268.97 26.14L269.96 26.27L270.95 26.40L271.95 26.53L272.94 26.66L273.93 26.79L274.92 26.92L275.91 27.05L276.90 27.17L277.90 27.30L278.89 27.42L279.88 27.54L280.87 27.67L281.87 27.79L282.86 27.91L283.85 28.03L284.84 28.15L285.84 28.27L286.83 28.39L287.82 28.51L288.82 28.62L289.81 28.74L290.80 28.85L291.80 28.97L292.79 29.08L293.78 29.20L294.78 29.31L295.77 29.42L296.76 29.54L297.76 29.65L298.75 29.76L299.75 29.87L300.74 29.98L301.73 30.09L302.73 30.20L303.72 30.31L304.72 30.42L305.71 30.53L306.70 30.63L307.70 30.74L308.69 30.85L309.69 30.95L310.68 31.06L311.68 31.16L312.67 31.27L313.67 31.37L314.66 31.47L315.66 31.57L316.65 31.67L317.65 31.77L318.64 31.87L319.64 31.97L320.63 32.07L321.63 32.16L322.62 32.26L323.62 32.35L324.61 32.45L325.61 32.54L326.61 32.63L327.60 32.73L328.60 32.82L329.59 32.92L330.59 33.01L331.59 33.10L332.58 33.20L333.58 33.29L334.57 33.39L335.57 33.49L336.56 33.58L337.56 33.68L338.55 33.78L339.55 33.88L340.54 33.98L341.54 34.08L342.53 34.19L343.53 34.29L344.52 34.40L345.51 34.51L346.51 34.62L347.50 34.73L348.49 34.84L349.49 34.96L350.48 35.07L351.47 35.19L352.47 35.31L353.46 35.43L354.45 35.56L355.44 35.68L356.43 35.81L357.43 35.94L358.42 36.07L359.41 36.20L360.40 36.33L361.39 36.47L362.38 36.60L363.37 36.74L364.36 36.88L365.35 37.02L366.34 37.16L367.33 37.31L368.32 37.45L369.31 37.60L370.30 37.74L371.29 37.89L372.28 38.04L373.27 38.19L374.26 38.35L375.24 38.50L376.23 38.65L377.22 38.81L378.21 38.97L379.19 39.13L380.18 39.29L381.17 39.45L382.15 39.61L383.14 39.78L384.13 39.94L385.11 40.11L386.10 40.28L387.08 40.45L388.07 40.63L389.05 40.80L390.04 40.98L391.02 41.15L392.01 41.33L392.99 41.52L393.97 41.70L394.96 41.88L395.94 42.07L396.92 42.26L397.90 42.44L398.89 42.64L399.87 42.83L400.85 43.02L401.83 43.22L402.81 43.42L403.79 43.62L404.76 43.82L405.74 44.03L406.72 44.23L407.70 44.45L408.67 44.66L409.65 44.87L410.63 45.09L411.60 45.31L412.58 45.53L413.55 45.75L414.53 45.98L415.50 46.21L416.48 46.43L417.45 46.66L418.42 46.89L419.39 47.13L420.37 47.36L421.34 47.59L422.31 47.83L423.29 48.06L424.26 48.30L425.23 48.54L426.20 48.77L427.17 49.01L428.15 49.25L429.12 49.48L430.09 49.72L431.06 49.95L432.03 50.19L433.01 50.42L433.98 50.66L434.95 50.90L435.92 51.14L436.89 51.37L437.87 51.61L438.84 51.86L439.81 52.10L440.78 52.35L441.74 52.60L442.71 52.86L443.68 53.12L444.64 53.38L445.60 53.65L446.56 53.92L447.52 54.20L448.48 54.49L449.43 54.78L450.39 55.08L451.34 55.39L452.29 55.70L453.24 56.02L454.18 56.34L455.13 56.67L456.07 57.00L457.01 57.33L457.95 57.68L458.89 58.02L459.83 58.37L460.77 58.72L461.70 59.08L462.63 59.45L463.56 59.82L464.49 60.19L465.41 60.57L466.33 60.96L467.25 61.35L468.17 61.76L469.08 62.17L469.98 62.59L470.88 63.02L471.78 63.46L472.68 63.90L473.57 64.36L474.45 64.82L475.34 65.29L476.22 65.76L477.10 66.24L477.97 66.72L478.85 67.21L479.72 67.70L480.59 68.19L481.46 68.69L482.33 69.19L483.19 69.69L484.05 70.19L484.91 70.70L485.77 71.22L486.63 71.74L487.48 72.26L488.33 72.79L489.17 73.33L490.02 73.86L490.86 74.41L491.69 74.96L492.53 75.51L493.35 76.07L494.18 76.64L495.00 77.22L495.81 77.80L496.61 78.39L497.41 78.99L498.20 79.60L498.98 80.22L499.76 80.85L500.52 81.49L501.28 82.15L502.02 82.81L502.76 83.48L503.49 84.17L504.21 84.86L504.92 85.57L505.62 86.28L506.31 87.00L506.99 87.73L507.66 88.47L508.33 89.22L508.98 89.97L509.62 90.73L510.26 91.50L510.88 92.28L511.50 93.07L512.11 93.86L512.71 94.66L513.31 95.46L513.90 96.27L514.49 97.08L515.08 97.89L515.66 98.70L516.24 99.52L516.82 100.34L517.40 101.15L517.98 101.97L518.55 102.79L519.13 103.61L519.70 104.43L520.27 105.25L520.83 106.08L521.39 106.91L521.95 107.74L522.50 108.58L523.04 109.42L523.57 110.26L524.09 111.11L524.61 111.97L525.12 112.83L525.62 113.69L526.11 114.56L526.60 115.43L527.09 116.31L527.56 117.18L528.04 118.07L528.51 118.95L528.98 119.83L529.44 120.72L529.91 121.61L530.37 122.50L530.83 123.39L531.29 124.28L531.74 125.17L532.19 126.06L532.64 126.96L533.08 127.86L533.52 128.76L533.95 129.66L534.37 130.57L534.78 131.47L535.19 132.39L535.58 133.30L535.97 134.22L536.34 135.15L536.71 136.08L537.07 137.01L537.41 137.94L537.75 138.88L538.09 139.83L538.41 140.77L538.73 141.72L539.04 142.67L539.34 143.62L539.64 144.58L539.93 145.54L540.22 146.50L540.50 147.46L540.78 148.42L541.05 149.38L541.31 150.34L541.57 151.31L541.83 152.28L542.08 153.24L542.33 154.21L542.57 155.18L542.81 156.16L543.04 157.13L543.27 158.10L543.49 159.08L543.71 160.05L543.93 161.03L544.14 162.01L544.34 162.98L544.55 163.96L544.74 164.94L544.94 165.92L545.13 166.91L545.32 167.89L545.50 168.87L545.68 169.85L545.86 170.84L546.03 171.82L546.21 172.81L546.38 173.79L546.55 174.78L546.72 175.77L546.88 176.75L547.05 177.74L547.21 178.73L547.37 179.71L547.53 180.70L547.69 181.69L547.85 182.67L548.00 183.66L548.16 184.65L548.31 185.64L548.46 186.63L548.61 187.61L548.76 188.60L548.91 189.59L549.06 190.58L549.21 191.57L549.35 192.56L549.50 193.55L549.64 194.54L549.79 195.53L549.93 196.52L550.07 197.51L550.21 198.50L550.36 199.49L550.50 200.48L550.64 201.47L550.78 202.46L550.92 203.45L551.06 204.44L551.19 205.43L551.33 206.42L551.47 207.41L551.61 208.40L551.74 209.39L551.88 210.38L552.01 211.37L552.15 212.37L552.28 213.36L552.41 214.35L552.54 215.34L552.67 216.33L552.80 217.32L552.92 218.32L553.05 219.31L553.17 220.30L553.29 221.29L553.41 222.29L553.53 223.28L553.64 224.27L553.76 225.26L553.87 226.26L553.98 227.25L554.09 228.25L554.20 229.24L554.31 230.23L554.41 231.23L554.52 232.22L554.62 233.22L554.72 234.21L554.82 235.21L554.92 236.20L555.02 237.20L555.12 238.19L555.21 239.19L555.30 240.19L555.40 241.18L555.48 242.18L555.57 243.17L555.66 244.17L555.74 245.17L555.82 246.16L555.90 247.16L555.98 248.16L556.06 249.15L556.13 250.15L556.21 251.15L556.28 252.14L556.35 253.14L556.42 254.14L556.48 255.14L556.55 256.14L556.61 257.13L556.68 258.13L556.74 259.13L556.80 260.13L556.86 261.13L556.91 262.12L556.97 263.12L557.02 264.12L557.08 265.12L557.13 266.12L557.18 267.12L557.23 268.12L557.28 269.11L557.33 270.11L557.38 271.11L557.43 272.11L557.48 273.11L557.52 274.11L557.57 275.11L557.62 276.11L557.67 277.11L557.71 278.10L557.76 279.10L557.80 280.10L557.85 281.10L557.90 282.10L557.94 283.10L557.99 284.10L558.04 285.10L558.08 286.10L558.13 287.10L558.18 288.09L558.22 289.09L558.27 290.09L558.31 291.09L558.36 292.09L558.41 293.09L558.45 294.09L558.50 295.09L558.55 296.09L558.59 297.08L558.64 298.08L558.69 299.08L558.73 300.08L558.78 301.08L558.82 302.08L558.87 303.08L558.92 304.08L558.96 305.08L559.01 306.08L559.05 307.07L559.10 308.07L559.15 309.07L559.19 310.07L559.24 311.07L559.28 312.07L559.33 313.07L559.37 314.07L559.42 315.07L559.46 316.07L559.51 317.07L559.55 318.06L559.60 319.06L559.64 320.06L559.69 321.06L559.73 322.06L559.78 323.06L559.82 324.06L559.86 325.06L559.91 326.06L559.95 327.06L560.00 328.06L560.04 329.05L560.08 330.05L560.12 331.05L560.17 332.05L560.21 333.05L560.25 334.05L560.29 335.05L560.34 336.05L560.38 337.05L560.42 338.05L560.46 339.05L560.50 340.05L560.54 341.04L560.58 342.04L560.62 343.04L560.66 344.04L560.70 345.04L560.74 346.04L560.78 347.04L560.82 348.04L560.86 349.04L560.90 350.04L560.94 351.04L560.98 352.04L561.01 353.04L561.05 354.03L561.09 355.03L561.13 356.03L561.16 357.03L561.20 358.03L561.24 359.03L561.27 360.03L561.31 361.03L561.34 362.03L561.38 363.03L561.41 364.03L561.44 365.03L561.48 366.03L561.51 367.03L561.54 368.03L561.58 369.02L561.61 370.02L561.64 371.02L561.67 372.02L561.70 373.02L561.73 374.02L561.77 375.02L561.80 376.02L561.82 377.02L561.85 378.02L561.88 379.02L561.91 380.02L561.94 381.02L561.96 382.02L561.99 383.02L562.02 384.02L562.04 385.02L562.06 386.02L562.09 387.02L562.11 388.02L562.13 389.02L562.16 390.02L562.18 391.01L562.20 392.01L562.22 393.01L562.24 394.01L562.26 395.01L562.28 396.01L562.30 397.01L562.32 398.01L562.34 399.01L562.36 400.01L562.38 401.01L562.40 402.01L562.42 403.01L562.44 404.01L562.46 405.01L562.48 406.01L562.50 407.01L562.52 408.01L562.55 409.01L562.57 410.01L562.59 411.01L562.61 412.01L562.64 413.01L562.66 414.01L562.69 415.01L562.71 416.01L562.74 417.01L562.76 418.01L562.79 419.01L562.82 420.01L562.85 421.01L562.88 422.01L562.91 423.01L562.95 424.01L562.98 425.01L563.02 426.00L563.06 427.00L563.10 428.00L563.14 429.00L563.18 430.00L563.23 431.00L563.27 432.00L563.32 433.00L563.37 434.00L563.42 435.00L563.46 435.99L563.51 436.99L563.56 437.99L563.61 438.99L563.66 439.99L563.71 440.99L563.75 441.99L563.80 442.99L563.84 443.99L563.89 444.98L563.93 445.98L563.97 446.98L564.01 447.98L564.05 448.98L564.09 449.98L564.12 450.98L564.16 451.98L564.19 452.98L564.23 453.97L564.26 454.97L564.29 455.96L564.32 456.94L564.35 457.91L564.37 458.88L564.40 459.82L564.43 460.76L564.45 461.68L564.48 462.59L564.50 463.50L564.56 462.50L564.61 461.50L564.67 460.50L564.72 459.51L564.78 458.51L564.83 457.51L564.88 456.51L564.93 455.51L564.98 454.51L565.03 453.51L565.08 452.52L565.12 451.52L565.17 450.52L565.21 449.52L565.25 448.52L565.30 447.52L565.34 446.52L565.38 445.52L565.41 444.52L565.45 443.52L565.49 442.52L565.53 441.52L565.56 440.53L565.60 439.53L565.63 438.53L565.67 437.53L565.70 436.53L565.74 435.53L565.77 434.53L565.80 433.53L565.83 432.53L565.86 431.53L565.89 430.53L565.92 429.53L565.95 428.53L565.98 427.53L566.00 426.53L566.03 425.53L566.06 424.53L566.08 423.53L566.11 422.53L566.13 421.53L566.15 420.53L566.17 419.53L566.20 418.53L566.22 417.53L566.24 416.53L566.26 415.54L566.28 414.54L566.30 413.54L566.32 412.54L566.33 411.54L566.35 410.54L566.37 409.54L566.39 408.54L566.40 407.54L566.42 406.54L566.44 405.54L566.45 404.54L566.47 403.54L566.49 402.54L566.50 401.54L566.52 400.54L566.53 399.54L566.55 398.54L566.57 397.54L566.58 396.54L566.60 395.54L566.62 394.54L566.63 393.54L566.65 392.54L566.67 391.54L566.68 390.54L566.70 389.54L566.72 388.54L566.74 387.54L566.76 386.54L566.78 385.54L566.80 384.54L566.82 383.54L566.84 382.54L566.86 381.54L566.88 380.54L566.90 379.54L566.93 378.54L566.95 377.54L566.97 376.54L567.00 375.54L567.02 374.54L567.05 373.54L567.07 372.54L567.10 371.54L567.13 370.54L567.15 369.54L567.18 368.54L567.21 367.55L567.24 366.55L567.26 365.55L567.29 364.55L567.32 363.55L567.35 362.55L567.38 361.55L567.41 360.55L567.44 359.55L567.47 358.55L567.50 357.55L567.53 356.55L567.56 355.55L567.60 354.55L567.63 353.55L567.66 352.55L567.69 351.55L567.73 350.55L567.76 349.55L567.79 348.56L567.83 347.56L567.86 346.56L567.89 345.56L567.93 344.56L567.96 343.56L568.00 342.56L568.03 341.56L568.07 340.56L568.10 339.56L568.14 338.56L568.17 337.56L568.21 336.56L568.24 335.56L568.28 334.56L568.32 333.56L568.35 332.56L568.39 331.57L568.43 330.57L568.46 329.57L568.50 328.57L568.54 327.57L568.57 326.57L568.61 325.57L568.65 324.57L568.69 323.57L568.72 322.57L568.76 321.57L568.80 320.57L568.84 319.57L568.87 318.57L568.91 317.57L568.95 316.57L568.99 315.58L569.02 314.58L569.06 313.58L569.10 312.58L569.14 311.58L569.18 310.58L569.21 309.58L569.25 308.58L569.29 307.58L569.33 306.58L569.36 305.58L569.40 304.58L569.44 303.58L569.48 302.58L569.51 301.58L569.55 300.59L569.59 299.59L569.63 298.59L569.66 297.59L569.70 296.59L569.74 295.59L569.77 294.59L569.81 293.59L569.85 292.59L569.89 291.59L569.92 290.59L569.96 289.59L569.99 288.59L570.03 287.59L570.07 286.59L570.10 285.60L570.14 284.60L570.17 283.60L570.21 282.60L570.24 281.60L570.28 280.60L570.31 279.60L570.34 278.60L570.38 277.60L570.41 276.60L570.44 275.60L570.48 274.60L570.51 273.60L570.54 272.60L570.58 271.60L570.61 270.60L570.64 269.60L570.68 268.60L570.71 267.61L570.75 266.61L570.79 265.61L570.82 264.61L570.86 263.61L570.90 262.61L570.94 261.61L570.99 260.61L571.03 259.61L571.08 258.61L571.13 257.61L571.17 256.62L571.23 255.62L571.28 254.62L571.33 253.62L571.39 252.62L571.44 251.62L571.50 250.62L571.56 249.63L571.62 248.63L571.69 247.63L571.75 246.63L571.81 245.63L571.88 244.64L571.94 243.64L572.01 242.64L572.08 241.64L572.15 240.65L572.21 239.65L572.29 238.65L572.36 237.65L572.43 236.66L572.50 235.66L572.58 234.66L572.65 233.66L572.73 232.67L572.80 231.67L572.88 230.67L572.96 229.68L573.04 228.68L573.12 227.68L573.20 226.68L573.28 225.69L573.36 224.69L573.44 223.69L573.53 222.70L573.61 221.70L573.70 220.70L573.78 219.71L573.87 218.71L573.95 217.71L574.04 216.72L574.12 215.72L574.21 214.73L574.30 213.73L574.39 212.73L574.48 211.74L574.57 210.74L574.66 209.75L574.75 208.75L574.84 207.75L574.93 206.76L575.02 205.76L575.12 204.77L575.21 203.77L575.31 202.78L575.40 201.78L575.50 200.79L575.60 199.79L575.69 198.80L575.79 197.80L575.89 196.81L576.00 195.81L576.10 194.82L576.20 193.82L576.30 192.83L576.41 191.83L576.51 190.84L576.62 189.84L576.73 188.85L576.83 187.85L576.94 186.86L577.05 185.87L577.16 184.87L577.27 183.88L577.38 182.88L577.49 181.89L577.60 180.90L577.72 179.90L577.83 178.91L577.95 177.92L578.06 176.92L578.18 175.93L578.30 174.94L578.42 173.94L578.54 172.95L578.67 171.96L578.79 170.97L578.92 169.98L579.05 168.98L579.18 167.99L579.31 167.00L579.45 166.01L579.58 165.02L579.72 164.03L579.86 163.04L580.00 162.05L580.14 161.06L580.29 160.07L580.43 159.08L580.58 158.09L580.73 157.10L580.88 156.11L581.04 155.13L581.19 154.14L581.35 153.15L581.50 152.16L581.66 151.17L581.82 150.19L581.99 149.20L582.15 148.21L582.31 147.23L582.48 146.24L582.65 145.25L582.82 144.27L582.99 143.28L583.16 142.30L583.34 141.32L583.52 140.33L583.70 139.35L583.88 138.37L584.07 137.38L584.26 136.40L584.45 135.42L584.65 134.44L584.85 133.46L585.05 132.48L585.25 131.50L585.45 130.52L585.66 129.54L585.86 128.56L586.07 127.58L586.27 126.61L586.47 125.63L586.67 124.65L586.86 123.66L587.05 122.68L587.24 121.70L587.43 120.72L587.61 119.73L587.78 118.75L587.95 117.77L588.12 116.78L588.29 115.79L588.45 114.80L588.61 113.82L588.77 112.83L588.92 111.84L589.08 110.85L589.23 109.86L589.39 108.88L589.55 107.89L589.71 106.90L589.87 105.91L590.04 104.93L590.21 103.94L590.39 102.96L590.57 101.98L590.75 101.00L590.94 100.02L591.14 99.03L591.34 98.06L591.55 97.08L591.76 96.10L591.97 95.12L592.19 94.15L592.42 93.17L592.65 92.19L592.89 91.22L593.13 90.25L593.38 89.28L593.63 88.31L593.89 87.34L594.15 86.38L594.42 85.41L594.70 84.46L594.99 83.50L595.28 82.54L595.58 81.59L595.90 80.65L596.22 79.70L596.55 78.76L596.89 77.83L597.24 76.89L597.60 75.96L597.96 75.03L598.33 74.09L598.69 73.16L599.05 72.23L599.42 71.30L599.78 70.36L600.13 69.43L600.49 68.49L600.84 67.56L601.20 66.62L601.55 65.69L601.91 64.76L602.27 63.82L602.63 62.89L603.00 61.96L603.38 61.04L603.75 60.11L604.13 59.18L604.51 58.26L604.90 57.34L605.28 56.41L605.67 55.49L606.05 54.57L606.44 53.64L606.83 52.72L607.22 51.80L607.61 50.88L608.00 49.96L608.40 49.04L608.81 48.13L609.22 47.22L609.65 46.32L610.08 45.41L610.52 44.52L610.97 43.62L611.43 42.74L611.90 41.85L612.38 40.98L612.87 40.11L613.37 39.24L613.89 38.39L614.41 37.54L614.95 36.70L615.50 35.86L616.06 35.04L616.64 34.22L617.23 33.42L617.83 32.62L618.44 31.83L619.07 31.06L619.71 30.29L620.37 29.54L621.04 28.80L621.72 28.07L622.42 27.36L623.13 26.66L623.86 25.97L624.60 25.30L625.35 24.64L626.11 24.00L626.89 23.38L627.68 22.77L628.49 22.18L629.31 21.61L630.14 21.06L630.98 20.52L631.83 20.01L632.70 19.51L633.58 19.04L634.47 18.59L635.37 18.16L636.28 17.76L637.20 17.39L638.13 17.04L639.08 16.72L640.02 16.43L640.98 16.17L641.95 15.93L642.92 15.72L643.90 15.53L644.88 15.36L645.87 15.21L646.86 15.08L647.85 14.96L648.84 14.85L649.84 14.76L650.83 14.69L651.83 14.62L652.83 14.56L653.83 14.51L654.83 14.47L655.82 14.43L656.82 14.41L657.81 14.38L658.80 14.37L659.79 14.35L660.77 14.34L661.73 14.33L662.69 14.32L663.63 14.32L664.56 14.31L665.48 14.30L666.40 14.30"/>
</g>
<g fill="none" stroke-width="3.2" stroke-linecap="round">
<line stroke="#000" x1="255.6" y1="166" x2="310.1" y2="166"/>
<line stroke="#f00" x1="255.6" y1="196.2" x2="310.1" y2="196.2"/>
</g>
<g stroke="#000" stroke-width="1.8" fill="none" stroke-linecap="butt">
<line x1="83.2" y1="13.10" x2="83.2" y2="483.70"/>
<line x1="82.30" y1="482.8" x2="667.10" y2="482.8"/>
<line x1="83.20" y1="482.80" x2="83.20" y2="491.80"/><line x1="131.78" y1="482.80" x2="131.78" y2="487.30"/><line x1="180.37" y1="482.80" x2="180.37" y2="491.80"/><line x1="228.95" y1="482.80" x2="228.95" y2="487.30"/><line x1="277.53" y1="482.80" x2="277.53" y2="491.80"/><line x1="326.12" y1="482.80" x2="326.12" y2="487.30"/><line x1="374.70" y1="482.80" x2="374.70" y2="491.80"/><line x1="423.28" y1="482.80" x2="423.28" y2="487.30"/><line x1="471.87" y1="482.80" x2="471.87" y2="491.80"/><line x1="520.45" y1="482.80" x2="520.45" y2="487.30"/><line x1="569.03" y1="482.80" x2="569.03" y2="491.80"/><line x1="617.62" y1="482.80" x2="617.62" y2="487.30"/><line x1="666.20" y1="482.80" x2="666.20" y2="491.80"/><line x1="83.20" y1="14.00" x2="73.90" y2="14.00"/><line x1="83.20" y1="45.64" x2="78.40" y2="45.64"/><line x1="83.20" y1="77.29" x2="73.90" y2="77.29"/><line x1="83.20" y1="108.93" x2="78.40" y2="108.93"/><line x1="83.20" y1="140.57" x2="73.90" y2="140.57"/><line x1="83.20" y1="172.21" x2="78.40" y2="172.21"/><line x1="83.20" y1="203.86" x2="73.90" y2="203.86"/><line x1="83.20" y1="235.50" x2="78.40" y2="235.50"/><line x1="83.20" y1="267.14" x2="73.90" y2="267.14"/><line x1="83.20" y1="298.79" x2="78.40" y2="298.79"/><line x1="83.20" y1="330.43" x2="73.90" y2="330.43"/><line x1="83.20" y1="362.07" x2="78.40" y2="362.07"/><line x1="83.20" y1="393.71" x2="73.90" y2="393.71"/><line x1="83.20" y1="425.36" x2="78.40" y2="425.36"/><line x1="83.20" y1="457.00" x2="73.90" y2="457.00"/>
</g>
<g font-size="20" fill="#000"><text x="83.20" y="514" text-anchor="middle">3.0</text><text x="180.37" y="514" text-anchor="middle">3.5</text><text x="277.53" y="514" text-anchor="middle">4.0</text><text x="374.70" y="514" text-anchor="middle">4.5</text><text x="471.87" y="514" text-anchor="middle">5.0</text><text x="569.03" y="514" text-anchor="middle">5.5</text><text x="666.20" y="514" text-anchor="middle">6.0</text><text x="67.8" y="20.00" text-anchor="end">0</text><text x="67.8" y="83.29" text-anchor="end">-5</text><text x="67.8" y="146.57" text-anchor="end">-10</text><text x="67.8" y="209.86" text-anchor="end">-15</text><text x="67.8" y="273.14" text-anchor="end">-20</text><text x="67.8" y="336.43" text-anchor="end">-25</text><text x="67.8" y="399.71" text-anchor="end">-30</text><text x="67.8" y="463.00" text-anchor="end">-35</text></g>
<g font-size="24" fill="#000">
<text x="317" y="173.9" letter-spacing="0.23">CST simulation</text>
<text x="317.5" y="203.7" letter-spacing="0.19">ADS simulation</text>
<text x="281.9" y="551" letter-spacing="0.27">Frequency (GHz)</text>
<text transform="translate(23.2 409.7) rotate(-90)">Reflection</text>
<text transform="translate(23.2 296.1) rotate(-90)" letter-spacing="0.22">coefficient,</text>
<text transform="translate(23.2 172.1) rotate(-90)">S</text>
<text transform="translate(31 155.4) rotate(-90)" font-size="16.5">11</text>
<text transform="translate(23.2 131.6) rotate(-90)" letter-spacing="0.4">(dB)</text>
</g>
</svg>
</body></html>
